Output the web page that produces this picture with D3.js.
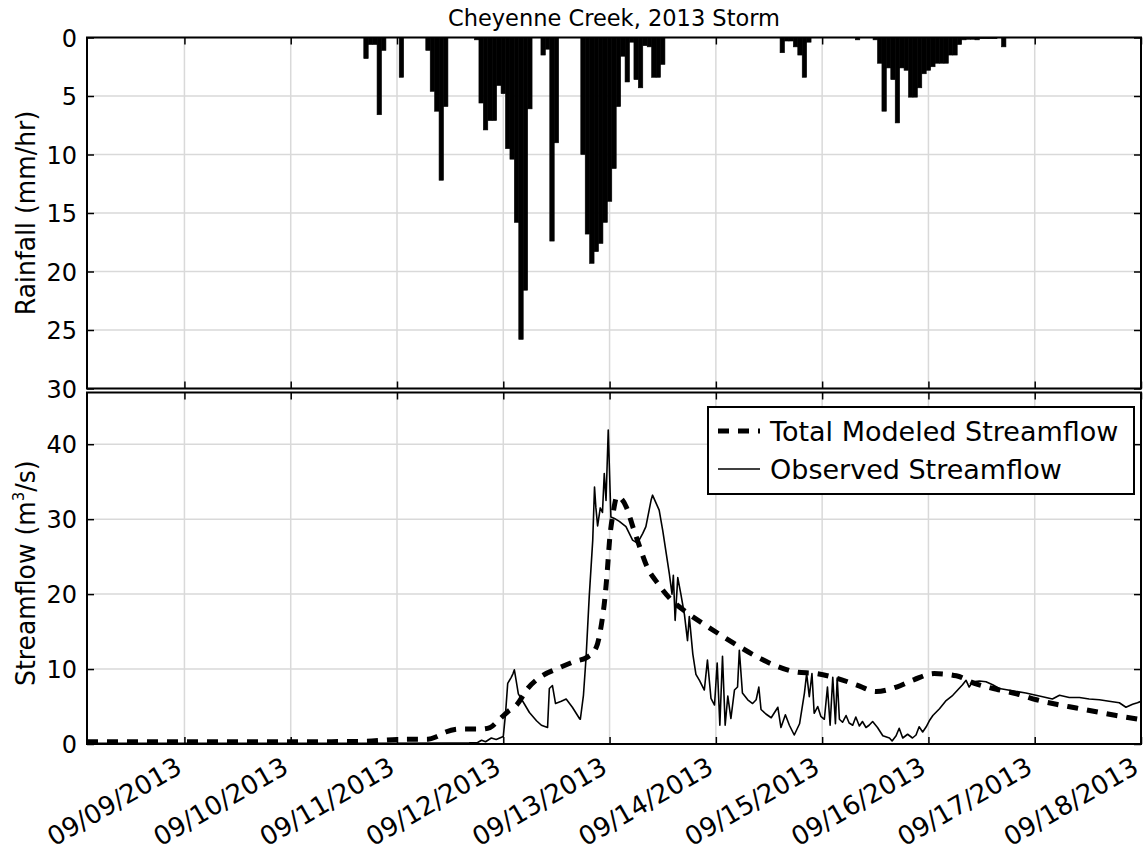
<!DOCTYPE html>
<html lang="en">
<head>
<meta charset="UTF-8">
<title>Cheyenne Creek, 2013 Storm</title>
<script src="https://d3js.org/d3.v7.min.js"></script>
<style>
  body { margin: 0; background: #fff; }
  text { font-family: "DejaVu Sans", sans-serif; fill: #000; }
</style>
</head>
<body>
<div id="chart"></div>
<script>
// ---- data ----
const dayTicks = ["09/09/2013", "09/10/2013", "09/11/2013", "09/12/2013", "09/13/2013",
                  "09/14/2013", "09/15/2013", "09/16/2013", "09/17/2013", "09/18/2013"];
const rainTicks = [0, 5, 10, 15, 20, 25, 30];
const flowTicks = [0, 10, 20, 30, 40];

// hourly rainfall (mm/hr), first value is hour 40 after 09/09/2013 00:00
const rainStartHour = 40;
const rainfall = [
  0, 1.8, 0.6, 0.6, 6.6, 1.1, 0, 0, 0, 3.4,
  0, 0, 0, 0, 0, 1.1, 4.6, 6.3, 12.2, 5.9,
  0, 0, 0, 0, 0, 0, 0.2, 5.6, 7.9, 7.1,
  7.1, 4.1, 4.8, 9.5, 10.4, 15.8, 25.8, 21.6, 6.1, 0,
  0, 1.5, 1.0, 17.4, 9.0, 0, 0, 0, 0, 0,
  10.0, 16.8, 19.3, 18.3, 17.6, 15.8, 14.0, 11.2, 5.9, 1.6,
  3.8, 0.4, 3.6, 4.3, 0.7, 0.8, 3.4, 3.4, 2.3, 0,
  0, 0, 0, 0, 0, 0, 0, 0, 0, 0,
  0, 0, 0, 0, 0, 0, 0, 0, 0, 0,
  0, 0, 0, 0, 0, 1.3, 0.3, 0.3, 0.8, 1.5,
  3.4, 0.4, 0, 0, 0, 0, 0, 0, 0, 0,
  0, 0, 0.2, 0, 0, 0, 0.2, 2.2, 6.3, 2.6,
  3.6, 7.3, 2.6, 2.8, 5.1, 5.1, 4.3, 3.1, 2.8, 2.5,
  2.2, 2.2, 2.2, 1.5, 1.5, 0.6, 0.2, 0.15, 0.15, 0.2,
  0.1, 0.1, 0.1, 0.1, 0, 0.8
];

// modeled streamflow (m3/s), time in hours after 09/09/2013 00:00
const modeledHours = [-22, 0, 24, 40, 48, 55, 57, 59, 62, 67, 69, 71, 73, 75, 77.5, 80.5, 84, 88, 91, 93,
  94.2, 94.9, 95.5, 96, 96.8, 97.7, 99.8, 101.3, 102.8, 104.5, 106.8, 109.5, 113.3, 117, 121.2, 125.3,
  129.4, 133.7, 138.2, 142.7, 147.2, 151.7, 156.2, 160.8, 164.8, 169.3, 174.3, 178.4, 183.4, 187.9,
  192.4, 196.9, 201.4, 205.9, 210.4, 216];
const modeledFlow = [0.3, 0.3, 0.3, 0.35, 0.6, 0.65, 1.0, 1.6, 2.0, 2.0, 2.2, 3.2, 4.3, 5.2, 7.4, 9.0, 10.0, 11.0, 11.6, 12.9,
  16.1, 19.2, 23.2, 27.2, 30.8, 33.0, 31.6, 28.9, 26.3, 23.6, 21.5, 19.5, 17.6, 16.1, 14.5, 13.0,
  11.6, 10.4, 9.6, 9.4, 8.8, 7.9, 7.0, 7.6, 8.6, 9.4, 9.1, 8.1, 7.3, 6.7,
  5.9, 5.3, 4.8, 4.3, 3.8, 3.25];

// observed streamflow (m3/s)
const observedHours = [-22, 40, 60, 64.3, 66.2, 67.1, 68, 69.3, 70.4, 71.6, 72.0, 72.5, 73.0, 73.8, 74.2, 74.5, 74.9,
  75.4, 76.1, 76.8, 77.9, 79.5, 80.6, 82.0, 82.4, 83.1, 83.8, 85.1, 86.2, 87.6, 89.2, 89.4, 90.1, 90.7,
  91.4, 92.2, 92.6, 92.9, 93.3, 93.9, 94.4, 94.8, 95.2, 95.7, 96.0, 96.3, 97.1, 98.2, 99.7, 101.2,
  102.3, 103.5, 104.2, 105.4, 105.7, 107.2, 108.0, 108.8, 109.5, 110.1, 110.4, 110.8, 111.4, 112.1,
  112.9, 113.6, 114.0, 114.8, 115.5, 116.3, 117.4, 118.1, 118.9, 119.7, 120.3, 120.9, 121.5, 122.1,
  122.7, 123.4, 124.2, 124.9, 125.3, 126.0, 127.2, 128.3, 129.1, 129.7, 130.2, 131.3, 132.5, 134.0,
  134.7, 135.7, 136.6, 137.7, 138.9, 140.0, 140.5, 141.1, 141.7, 142.2, 143.0, 143.7, 144.5, 145.2,
  145.8, 146.4, 147.0, 147.4, 147.9, 148.6, 149.4, 150.1, 150.9, 151.6, 152.4, 153.1, 153.9, 154.6,
  155.4, 156.5, 157.7, 159.2, 159.8, 160.7, 161.4, 162.2, 163.3, 164.4, 165.2, 165.9, 166.7, 167.5,
  168.2, 169.0, 170.5, 172.0, 173.5, 174.6, 175.7, 176.5, 177.2, 178.0, 179.5, 181.0, 182.5, 184.0,
  187.0, 190.0, 193.8, 196.0, 197.6, 199.8, 202.1, 204.3, 206.6, 208.8, 211.1, 212.6, 214.1, 215.2, 216];
const observedFlow = [0.1, 0.1, 0.12, 0.15, 0.2, 0.5, 0.3, 0.8, 0.6, 0.9, 1.0, 4.0, 8.1, 8.9, 9.4, 9.9, 8.5,
  6.7, 6.0, 5.3, 4.2, 3.1, 2.5, 2.2, 7.4, 7.8, 5.4, 5.7, 6.0, 4.9, 3.4, 3.3, 6.5, 11.6,
  19.6, 27.2, 34.3, 31.6, 29.1, 31.5, 30.9, 36.1, 32.5, 41.9, 36.1, 30.3, 30.1, 29.7, 29.0, 27.2,
  26.8, 28.1, 29.0, 32.6, 33.2, 31.2, 28.5, 25.4, 22.7, 20.0, 22.5, 16.5, 22.2, 20.0,
  17.3, 13.8, 17.0, 12.0, 9.3, 8.5, 7.2, 11.2, 6.1, 5.2, 10.8, 2.5, 11.7, 2.5,
  6.4, 3.4, 7.2, 7.6, 12.5, 6.8, 5.9, 5.4, 5.9, 7.6, 4.6, 4.0, 3.5, 4.9,
  2.2, 3.9, 2.5, 1.2, 2.7, 6.8, 9.4, 6.3, 9.4, 4.1, 5.0, 3.7, 3.3, 7.6,
  2.5, 8.9, 2.7, 8.8, 3.3, 2.9, 3.8, 2.8, 2.5, 3.6, 2.4, 3.0, 2.2, 2.5,
  3.0, 2.2, 1.1, 0.8, 0.4, 1.1, 2.1, 0.8, 1.3, 0.8, 1.2, 2.3, 1.6, 2.3,
  3.1, 3.8, 4.7, 5.8, 6.5, 7.2, 7.9, 8.5, 7.6, 8.3, 8.4, 8.3, 7.9, 7.4,
  7.1, 6.8, 6.3, 6.0, 6.5, 6.2, 6.2, 6.0, 5.9, 5.7, 5.5, 4.9, 5.3, 5.5, 5.7];

// ---- layout ----
const width = 1143, height = 853;
const plotL = 87, plotR = 1141;
const rainTop = 37.5, rainBot = 388.5;
const flowTop = 392.5, flowBot = 744;
const tickFont = 24, dateFont = 26;

const baseDate = new Date(2013, 8, 9, 0, 0);
const hourDate = h => new Date(baseDate.getTime() + h * 3600e3);
const parseDay = d3.timeParse("%m/%d/%Y");
const fmtDay = d3.timeFormat("%m/%d/%Y");
const dayDates = dayTicks.map(parseDay);

const x = d3.scaleTime().domain([hourDate(-22), hourDate(216)]).range([plotL, plotR]);
const yRain = d3.scaleLinear().domain([0, 30]).range([rainTop, rainBot]);
const yFlow = d3.scaleLinear().domain([0, 46.9]).range([flowBot, flowTop]);

const svg = d3.select("#chart").append("svg")
  .attr("width", width).attr("height", height)
  .attr("viewBox", [0, 0, width, height]);

const gridColor = "#d9d9d9";

function drawGrid(yScale, ticks, y0, y1) {
  const g = svg.append("g").attr("stroke", gridColor).attr("stroke-width", 1.5);
  g.selectAll(".v").data(dayDates).join("line")
    .attr("x1", d => x(d)).attr("x2", d => x(d)).attr("y1", y0).attr("y2", y1);
  g.selectAll(".h").data(ticks).join("line")
    .attr("x1", plotL).attr("x2", plotR).attr("y1", d => yScale(d)).attr("y2", d => yScale(d));
}
drawGrid(yRain, rainTicks, rainTop, rainBot);
drawGrid(yFlow, flowTicks, flowTop, flowBot);

// rainfall bars hanging from the top
const rainData = rainfall.map((v, i) => ({h: rainStartHour + i, v: v})).filter(d => d.v > 0);
svg.append("g").selectAll("rect").data(rainData).join("rect")
  .attr("x", d => x(hourDate(d.h - 0.5)))
  .attr("width", d => x(hourDate(d.h + 0.5)) - x(hourDate(d.h - 0.5)))
  .attr("y", yRain(0))
  .attr("height", d => yRain(d.v) - yRain(0))
  .attr("fill", "#000").attr("stroke", "#000").attr("stroke-width", 0.6);

// streamflow lines
svg.append("clipPath").attr("id", "flowClip").append("rect")
  .attr("x", plotL).attr("y", flowTop).attr("width", plotR - plotL).attr("height", flowBot - flowTop);

const modeled = modeledHours.map((h, i) => [hourDate(h), modeledFlow[i]]);
const observed = observedHours.map((h, i) => [hourDate(h), observedFlow[i]]);

const line = d3.line().x(d => x(d[0])).y(d => yFlow(d[1]));
const smoothLine = d3.line().x(d => x(d[0])).y(d => yFlow(d[1])).curve(d3.curveMonotoneX);

const flowG = svg.append("g").attr("clip-path", "url(#flowClip)");
flowG.append("path").datum(observed)
  .attr("d", line).attr("fill", "none").attr("stroke", "#000").attr("stroke-width", 1.6)
  .attr("stroke-linejoin", "round");
flowG.append("path").datum(modeled)
  .attr("d", smoothLine).attr("fill", "none").attr("stroke", "#000").attr("stroke-width", 5)
  .attr("stroke-dasharray", "11,9");

// axes: ticks pointing inward on every side
function styleAxis(g) {
  g.select(".domain").remove();
  g.selectAll(".tick line").attr("stroke", "#000").attr("stroke-width", 1.5);
  g.selectAll("text").attr("font-size", tickFont).attr("font-family", "DejaVu Sans");
}
function panelAxes(yScale, ticks, y0, y1, showDates) {
  svg.append("g").attr("transform", `translate(${plotL},0)`)
    .call(d3.axisLeft(yScale).tickValues(ticks).tickSizeInner(-7).tickSizeOuter(0).tickPadding(10))
    .call(styleAxis)
    .selectAll("text").attr("dy", "0.36em");
  svg.append("g").attr("transform", `translate(${plotR},0)`)
    .call(d3.axisRight(yScale).tickValues(ticks).tickSizeInner(-7).tickSizeOuter(0).tickFormat(""))
    .call(styleAxis);
  svg.append("g").attr("transform", `translate(0,${y0})`)
    .call(d3.axisTop(x).tickValues(dayDates).tickSizeInner(-7).tickSizeOuter(0).tickFormat(""))
    .call(styleAxis);
  const bottom = svg.append("g").attr("transform", `translate(0,${y1})`)
    .call(d3.axisBottom(x).tickValues(dayDates).tickSizeInner(-7).tickSizeOuter(0)
      .tickFormat(showDates ? fmtDay : ""))
    .call(styleAxis);
  if (showDates) {
    bottom.selectAll("text")
      .attr("font-size", dateFont)
      .attr("text-anchor", "end")
      .attr("x", 0).attr("y", 0).attr("dy", "0.75em")
      .attr("transform", "translate(-11,11) rotate(-30)");
  }
  svg.append("rect").attr("x", plotL).attr("y", y0)
    .attr("width", plotR - plotL).attr("height", y1 - y0)
    .attr("fill", "none").attr("stroke", "#000").attr("stroke-width", 2);
}
panelAxes(yRain, rainTicks, rainTop, rainBot, false);
panelAxes(yFlow, flowTicks, flowTop, flowBot, true);

// title and axis labels
svg.append("text").attr("x", (plotL + plotR) / 2).attr("y", 26)
  .attr("text-anchor", "middle").attr("font-size", 22.5).text("Cheyenne Creek, 2013 Storm");

svg.append("text")
  .attr("transform", `translate(35,${(rainTop + rainBot) / 2}) rotate(-90) scale(0.93,1)`)
  .attr("text-anchor", "middle").attr("font-family", "Open Sans").attr("font-size", 27)
  .text("Rainfall (mm/hr)");

const flowLabel = svg.append("text")
  .attr("transform", `translate(35,${(flowTop + flowBot) / 2 + 5}) rotate(-90) scale(0.93,1)`)
  .attr("text-anchor", "middle").attr("font-family", "Open Sans").attr("font-size", 27);
flowLabel.append("tspan").text("Streamflow (m");
flowLabel.append("tspan").attr("font-size", 16).attr("dy", -11).text("3");
flowLabel.append("tspan").attr("dy", 11).text("/s)");

// legend
const legend = svg.append("g");
legend.append("rect").attr("x", 708).attr("y", 407).attr("width", 426).attr("height", 87)
  .attr("fill", "#fff").attr("stroke", "#000").attr("stroke-width", 2);
const legendItems = [
  {label: "Total Modeled Streamflow", width: 5, dash: "11,9"},
  {label: "Observed Streamflow", width: 1.6, dash: null}
];
legendItems.forEach((d, i) => {
  const yy = 431 + i * 38;
  legend.append("line").attr("x1", 718).attr("x2", 760).attr("y1", yy).attr("y2", yy)
    .attr("stroke", "#000").attr("stroke-width", d.width)
    .attr("stroke-dasharray", d.dash);
  legend.append("text").attr("x", 770).attr("y", yy).attr("dy", "0.36em")
    .attr("font-size", 27).text(d.label);
});
</script>
</body>
</html>
